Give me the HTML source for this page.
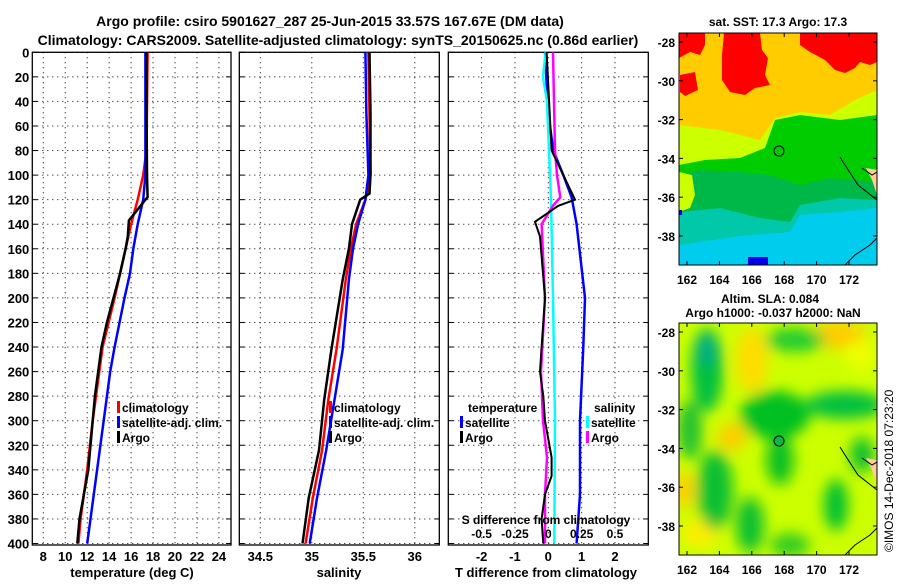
<!DOCTYPE html>
<html><head><meta charset="utf-8"><style>
body{margin:0;background:#fff;}
svg text{font-family:"Liberation Sans",sans-serif;font-weight:bold;}
</style></head><body>
<svg id="c" width="900" height="580" viewBox="0 0 900 580" xmlns="http://www.w3.org/2000/svg">
<defs>
<filter id="bl" x="-50%" y="-50%" width="200%" height="200%"><feGaussianBlur stdDeviation="7"/></filter>
<clipPath id="cm1"><rect x="679" y="33" width="198" height="232"/></clipPath>
<clipPath id="cm2"><rect x="679" y="323" width="198" height="232"/></clipPath>
</defs>
<text x="330" y="26" text-anchor="middle" font-size="14">Argo profile: csiro 5901627_287 25-Jun-2015 33.57S 167.67E (DM data)</text>
<text x="338" y="45" text-anchor="middle" font-size="14">Climatology: CARS2009. Satellite-adjusted climatology: synTS_20150625.nc (0.86d earlier)</text>
<g id="p1"></g>
<g id="p2"></g>
<g id="p3"></g>

<!-- Top map: SST -->
<g clip-path="url(#cm1)">
<rect x="679" y="33" width="198" height="232" fill="#ffcc00"/>
<path d="M679 33 L705 33 L705 45 L700 55 L690 52 L679 58 Z" fill="#ff0000"/>
<path d="M680 75 L695 72 L698 90 L685 96 L680 92 Z" fill="#ff0000"/>
<path d="M724 33 L760 33 L762 50 L768 58 L765 75 L770 85 L755 88 L745 95 L730 92 L722 80 L722 55 Z" fill="#ff0000"/>
<path d="M800 33 L877 33 L877 62 L870 65 L860 62 L855 68 L845 73 L835 70 L825 60 L810 52 L800 45 Z" fill="#ff0000"/>
<path d="M679 125 L720 130 L760 140 L775 118 L800 112 L830 115 L855 100 L877 90 L877 180 L679 180 Z" fill="#ccff00"/>
<path d="M679 165 L705 160 L740 158 L765 148 L775 120 L800 115 L840 120 L877 115 L877 265 L679 265 Z" fill="#00cc00"/>
<path d="M679 175 L700 170 L740 172 L770 175 L800 185 L830 178 L877 182 L877 265 L679 265 Z" fill="#00b848"/>
<path d="M679 265 L679 212 L720 208 L760 218 L790 222 L800 205 L840 198 L877 200 L877 265 Z" fill="#00c8a8"/>
<path d="M679 265 L679 245 L740 236 L790 232 L800 215 L840 212 L877 208 L877 265 Z" fill="#00ccee"/>
<path d="M679 172 L692 175 L695 195 L690 208 L679 212 Z" fill="#ccff00"/>
<rect x="748" y="257" width="20" height="8" fill="#0000ee"/>
<rect x="679" y="210" width="3" height="5" fill="#0000ee"/>
<path d="M877 170 L866 168 L872 180 L877 195 Z" fill="#ffcc99"/>
<path d="M840 157 L845 165 L858 185 L877 200 M862 168 L872 175 L877 172 M845 265 L855 255 L870 245 L877 238" fill="none" stroke="#000" stroke-width="1"/>
<circle cx="779" cy="151" r="5" fill="none" stroke="#000" stroke-width="1"/>
</g>
<rect x="679" y="33" width="198" height="232" fill="none" stroke="#000"/>
<text x="778" y="26" text-anchor="middle" font-size="12">sat. SST: 17.3 Argo: 17.3</text>

<!-- Bottom map: SLA -->
<g clip-path="url(#cm2)">
<rect x="679" y="323" width="198" height="232" fill="#ccff00"/>
<g filter="url(#bl)">
<ellipse cx="752" cy="360" rx="16" ry="32" fill="#ffdd00"/>
<ellipse cx="838" cy="335" rx="28" ry="14" fill="#ffcc00"/>
<ellipse cx="732" cy="437" rx="14" ry="14" fill="#ffcc00"/>
<ellipse cx="684" cy="490" rx="10" ry="18" fill="#ffcc00"/>
<ellipse cx="700" cy="533" rx="18" ry="14" fill="#ffee00"/>
<ellipse cx="860" cy="355" rx="15" ry="15" fill="#eeff00"/>
<ellipse cx="707" cy="370" rx="16" ry="42" fill="#00c040"/>
<ellipse cx="707" cy="350" rx="9" ry="16" fill="#00aa88"/>
<ellipse cx="775" cy="415" rx="35" ry="24" fill="#00c020"/>
<ellipse cx="780" cy="460" rx="14" ry="25" fill="#11c022"/>
<ellipse cx="845" cy="405" rx="40" ry="14" fill="#00c040"/>
<ellipse cx="836" cy="505" rx="12" ry="26" fill="#00c030"/>
<ellipse cx="715" cy="490" rx="18" ry="40" fill="#11c033"/>
<ellipse cx="750" cy="525" rx="14" ry="28" fill="#11c033"/>
<ellipse cx="795" cy="340" rx="30" ry="12" fill="#22cc33"/>
<ellipse cx="690" cy="430" rx="12" ry="30" fill="#22c033"/>
<ellipse cx="862" cy="455" rx="12" ry="18" fill="#11c033"/>
<ellipse cx="790" cy="545" rx="20" ry="12" fill="#33cc22"/>
</g>
<path d="M877 460 L866 458 L872 470 L877 485 Z" fill="#ffcc99"/>
<path d="M840 447 L845 455 L858 475 L877 490 M862 458 L872 465 L877 462 M845 555 L855 545 L870 535 L877 528" fill="none" stroke="#000" stroke-width="1"/>
<circle cx="779" cy="441" r="5" fill="#00bb44" stroke="#000" stroke-width="1"/>
</g>
<rect x="679" y="323" width="198" height="232" fill="none" stroke="#000"/>
<text x="770" y="303" text-anchor="middle" font-size="12">Altim. SLA: 0.084</text>
<text x="773" y="317" text-anchor="middle" font-size="12">Argo h1000: -0.037 h2000: NaN</text>
<text transform="translate(893,552) rotate(-90)" font-size="12" style="font-weight:normal">©IMOS 14-Dec-2018 07:23:20</text>
<g id="maxes"></g>
</svg>
<script>
// ---- data ----
const tDepthArgo=[0,50,100,118,120,137,150,160,180,200,220,240,260,280,300,320,340,360,380,400];
const tArgo=[17.4,17.4,17.45,17.5,17.3,15.8,15.7,15.5,15.0,14.4,13.8,13.3,13.0,12.7,12.5,12.3,12.1,11.7,11.3,11.1];
const tDepthClim=[0,80,100,120,140,160,180,200,240,260,300,340,380,400];
const tClim=[17.5,17.4,17.1,16.6,16.0,15.5,15.0,14.5,13.4,13.1,12.5,12.0,11.4,11.2];
const tSat=[17.3,17.3,17.3,17.1,16.6,16.2,15.9,15.4,14.5,14.1,13.5,12.9,12.3,12.0];
const sDepthArgo=[0,50,100,115,120,140,160,185,242,283,324,363,400];
const sArgo=[35.56,35.57,35.57,35.56,35.47,35.39,35.36,35.30,35.19,35.12,35.07,34.97,34.91];
const sDepthClim=[0,50,100,120,140,160,185,242,283,324,363,400];
const sClim=[35.55,35.56,35.57,35.52,35.43,35.38,35.33,35.24,35.16,35.10,35.01,34.94];
const sSat=[35.52,35.53,35.55,35.52,35.45,35.40,35.36,35.30,35.22,35.14,35.05,34.98];
const dDepthTSat=[0,50,80,100,118,140,200,240,300,360,400];
const dTSat=[-0.1,0,0.15,0.45,0.7,0.85,1.1,1.05,0.95,0.95,0.85];
const dDepthTArgo=[0,80,100,120,125,138,150,200,240,260,280,300,330,345,360,380,400];
const dTArgo=[-0.05,0.1,0.45,0.8,0.3,-0.4,-0.25,-0.1,-0.2,-0.25,-0.15,-0.1,0.1,0.1,-0.1,-0.2,-0.15];
const dDepthSArgo=[0,80,100,118,125,140,200,260,300,330,360,400];
const dSArgo=[0.035,0.05,0.065,0.09,0.035,-0.05,-0.025,-0.055,-0.04,-0.01,-0.025,-0.025];
const dDepthSSat=[0,20,40,80,120,200,300,400];
const dSSat=[-0.02,-0.04,-0.01,0.005,0.02,0.035,0.05,0.045];
const depthTicks=[0,20,40,60,80,100,120,140,160,180,200,220,240,260,280,300,320,340,360,380,400];
const tTicks=[8,10,12,14,16,18,20,22,24];
const sTicks=[34.5,35,35.5,36];
const dtTicks=[-2,-1,0,1,2];
const dsTicks=[-0.5,-0.25,0,0.25,0.5];
const dsTickLabels=['-0.5','-0.25','0','0.25','0.5'];
const lonTicks=[162,164,166,168,170,172];
const latTicks=[-28,-30,-32,-34,-36,-38];
// ---- drawing ----
const NS='http://www.w3.org/2000/svg';
const svg=document.getElementById('c');
function mk(tag,attrs,parent){const e=document.createElementNS(NS,tag);for(const k in attrs)e.setAttribute(k,attrs[k]);(parent||svg).appendChild(e);return e;}
const Y0=52.3,Y1=543.5;
const yD=d=>Y0+(d/400)*(Y1-Y0);
function scale(d0,d1,r0,r1){return v=>r0+(v-d0)/(d1-d0)*(r1-r0);}
function frame(g,x0,x1,xs,ticks,labels,showY){
  for(const v of ticks){const x=xs(v);
    const l=mk('line',{x1:x,x2:x,y1:Y0,y2:545,stroke:'#000','stroke-dasharray':'1,4'},g);
    }
  for(const d of depthTicks){const y=yD(d);
    const l=mk('line',{x1:x0,x2:x1,y1:y,y2:y,stroke:'#000','stroke-dasharray':'1,4'},g);
    
    mk('line',{x1:x0,x2:x0+5,y1:y,y2:y,stroke:'#000'},g);mk('line',{x1:x1-5,x2:x1,y1:y,y2:y,stroke:'#000'},g);
    if(showY){const t=mk('text',{x:x0-3,y:y+5,'text-anchor':'end','font-size':13},g);t.textContent=d;
      }}
  if(labels){ticks.forEach((v,i)=>{const t=mk('text',{x:xs(v),y:561,'text-anchor':'middle','font-size':13},g);t.textContent=labels[i];
    });}
  const r=mk('rect',{x:x0,y:Y0,width:x1-x0,height:545-Y0,fill:'none',stroke:'#000','stroke-width':1.3},g);
  
}
function line(g,xs,depths,vals,color,w,name){
  const pts=vals.map((v,i)=>xs(v).toFixed(1)+','+yD(depths[i]).toFixed(1)).join(' ');
  const p=mk('polyline',{points:pts,fill:'none',stroke:color,'stroke-width':w},g);
  
  
}
function legend(g,x,y,items){items.forEach((it,i)=>{const yy=y+i*15;
  mk('rect',{x:x,y:yy-11,width:3,height:12,fill:it[1]},g);
  const t=mk('text',{x:x+5,y:yy,'font-size':12},g);t.textContent=it[0];
  });}
// panel 1
const g1=document.getElementById('p1');
const xT=scale(7,25.1,32.3,231);
frame(g1,32.3,231,xT,tTicks,tTicks.map(String),true);
line(g1,xT,tDepthClim,tClim,'#f00',2.5,'climatology-temperature-line');
line(g1,xT,tDepthClim,tSat,'#00f',2.5,'satellite-temperature-line');
line(g1,xT,tDepthArgo,tArgo,'#000',2.5,'argo-temperature-line');
legend(g1,117,412,[['climatology','#f00'],['satellite-adj. clim.','#00f'],['Argo','#000']]);
{const t=mk('text',{x:132,y:577,'text-anchor':'middle','font-size':13},g1);t.textContent='temperature (deg C)';}
// panel 2
const g2=document.getElementById('p2');
const xS=scale(34.296,36.238,239.3,439.3);
frame(g2,239.3,439.3,xS,sTicks,sTicks.map(String),false);
line(g2,xS,sDepthClim,sClim,'#f00',2.5,'climatology-salinity-line');
line(g2,xS,sDepthClim,sSat,'#00f',2.5,'satellite-salinity-line');
line(g2,xS,sDepthArgo,sArgo,'#000',2.5,'argo-salinity-line');
legend(g2,329,412,[['climatology','#f00'],['satellite-adj. clim.','#00f'],['Argo','#000']]);
{const t=mk('text',{x:339,y:577,'text-anchor':'middle','font-size':13},g2);t.textContent='salinity';}
// panel 3
const g3=document.getElementById('p3');
const xDT=scale(-3,3,448.3,648.3);
const xDS=scale(-0.75,0.75,448.3,648.3);
frame(g3,448.3,648.3,xDT,dtTicks,dtTicks.map(String),false);
line(g3,xDT,dDepthTSat,dTSat,'#00f',2.5,'satellite-t-diff-line');
line(g3,xDS,dDepthSSat,dSSat,'#0ff',2.5,'satellite-s-diff-line');
line(g3,xDS,dDepthSArgo,dSArgo,'#f0f',2.5,'argo-s-diff-line');
line(g3,xDT,dDepthTArgo,dTArgo,'#000',2,'argo-t-diff-line');
legend(g3,460,427,[['satellite','#00f'],['Argo','#000']]);
legend(g3,586,427,[['satellite','#0ff'],['Argo','#f0f']]);
{let t=mk('text',{x:468,y:412,'font-size':12},g3);t.textContent='temperature';
 t=mk('text',{x:594,y:412,'font-size':12},g3);t.textContent='salinity';
 t=mk('text',{x:546,y:524,'text-anchor':'middle','font-size':12},g3);t.textContent='S difference from climatology';
 dsTicks.forEach((v,i)=>{const s=mk('text',{x:xDS(v),y:538,'text-anchor':'middle','font-size':12},g3);s.textContent=dsTickLabels[i];
   });
 t=mk('text',{x:546,y:577,'text-anchor':'middle','font-size':13},g3);t.textContent='T difference from climatology';}
// map axes
const ma=document.getElementById('maxes');
const xLon=scale(162,172,687,849);
function mapAxes(top,y28){
  const yLat=scale(-28,-38,y28,y28+194);
  lonTicks.forEach(v=>{const x=xLon(v);mk('line',{x1:x,x2:x,y1:top,y2:top+4,stroke:'#000'},ma);mk('line',{x1:x,x2:x,y1:top+232,y2:top+228,stroke:'#000'},ma);
    const t=mk('text',{x:x,y:top+251,'text-anchor':'middle','font-size':12},ma);t.textContent=v;
    });
  latTicks.forEach(v=>{const y=yLat(v);mk('line',{x1:679,x2:683,y1:y,y2:y,stroke:'#000'},ma);mk('line',{x1:877,x2:873,y1:y,y2:y,stroke:'#000'},ma);
    const t=mk('text',{x:675,y:y+5,'text-anchor':'end','font-size':12},ma);t.textContent=v;
    });
}
mapAxes(33,42);mapAxes(323,332);
</script>
</body></html>
